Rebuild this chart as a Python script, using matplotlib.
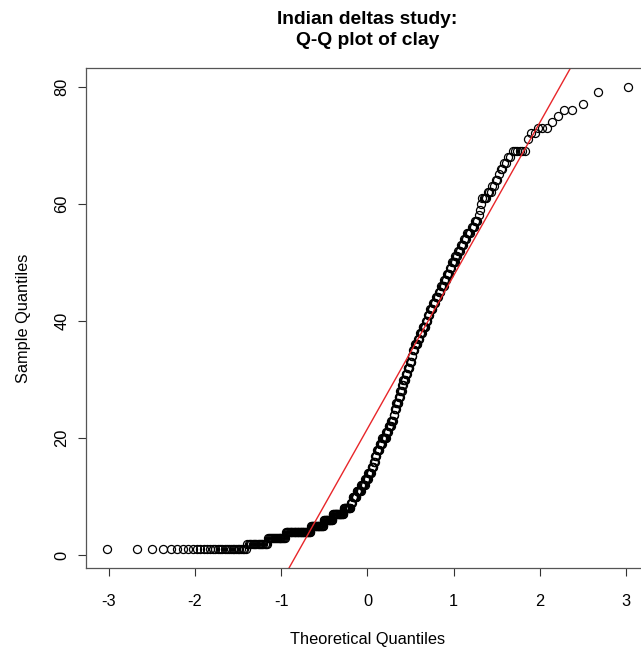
import numpy as np
import matplotlib
matplotlib.use("Agg")
import matplotlib.pyplot as plt
from statistics import NormalDist

# Clay values (integers) and how many observations take each value
clay_values = list(range(1, 81))
clay_counts = [32, 17, 19, 34, 20, 15, 19, 13, 3, 8,
               8, 7, 6, 6, 4, 3, 3, 5, 5, 7,
               4, 5, 4, 2, 3, 4, 3, 3, 2, 4,
               3, 4, 3, 2, 3, 5, 3, 4, 5, 3,
               3, 4, 4, 4, 3, 4, 3, 4, 2, 4,
               3, 3, 3, 3, 4, 3, 3, 1, 1, 1,
               4, 3, 2, 2, 1, 2, 2, 2, 6, 0,
               1, 2, 3, 1, 1, 2, 1, 0, 1, 1]

title_text = "Indian deltas study:\nQ-Q plot of clay"
x_label = "Theoretical Quantiles"
y_label = "Sample Quantiles"
x_ticks = [-3, -2, -1, 0, 1, 2, 3]
y_ticks = [0, 20, 40, 60, 80]

sample = np.sort(np.repeat(clay_values, clay_counts)).astype(float)
n = len(sample)
nd = NormalDist()
a = 3 / 8 if n <= 10 else 0.5
theo = np.array([nd.inv_cdf((i - a) / (n + 1 - 2 * a)) for i in range(1, n + 1)])

plt.rcParams['font.family'] = ['Liberation Sans', 'DejaVu Sans']

W, H = 641, 650
fig = plt.figure(figsize=(W / 100, H / 100), dpi=100)
left, right, top, bottom = 86, 649, 68, 568
ax = fig.add_axes([left / W, 1 - bottom / H, (right - left) / W, (bottom - top) / H])

ax.plot(theo, sample, linestyle='none', marker='o', markersize=5.8,
        markerfacecolor='none', markeredgecolor='black', markeredgewidth=0.9)

q1, q3 = np.percentile(sample, [25, 75])
z1, z3 = nd.inv_cdf(0.25), nd.inv_cdf(0.75)
slope = (q3 - q1) / (z3 - z1)
ax.axline((z1, q1), slope=slope, color='#e8262a', linewidth=1.0)

xr = theo.max() - theo.min()
yr = sample.max() - sample.min()
ax.set_xlim(theo.min() - 0.04 * xr, theo.max() + 0.04 * xr)
ax.set_ylim(sample.min() - 0.04 * yr, sample.max() + 0.04 * yr)

ax.set_xticks(x_ticks)
ax.set_xticklabels([str(t) for t in x_ticks])
ax.set_yticks(y_ticks)
ax.set_yticklabels([str(t) for t in y_ticks], rotation=90, va='center')
ax.tick_params(axis='both', direction='out', length=5.5, width=0.8,
               colors='#333333', labelcolor='black', labelsize=11.8)
ax.tick_params(axis='x', pad=13.5)
ax.tick_params(axis='y', pad=6.5)
for s in ax.spines.values():
    s.set_color('#555555')
    s.set_linewidth(0.9)

ax.set_xlabel(x_label, fontsize=11.8, labelpad=16)
ax.set_ylabel(y_label, fontsize=11.8, labelpad=17)
fig.text((left + right) / 2 / W, 1 - 30 / H, title_text, ha='center', va='center',
         fontsize=13.9, fontweight='bold', linespacing=1.28)

fig.savefig("out.png", dpi=100)
